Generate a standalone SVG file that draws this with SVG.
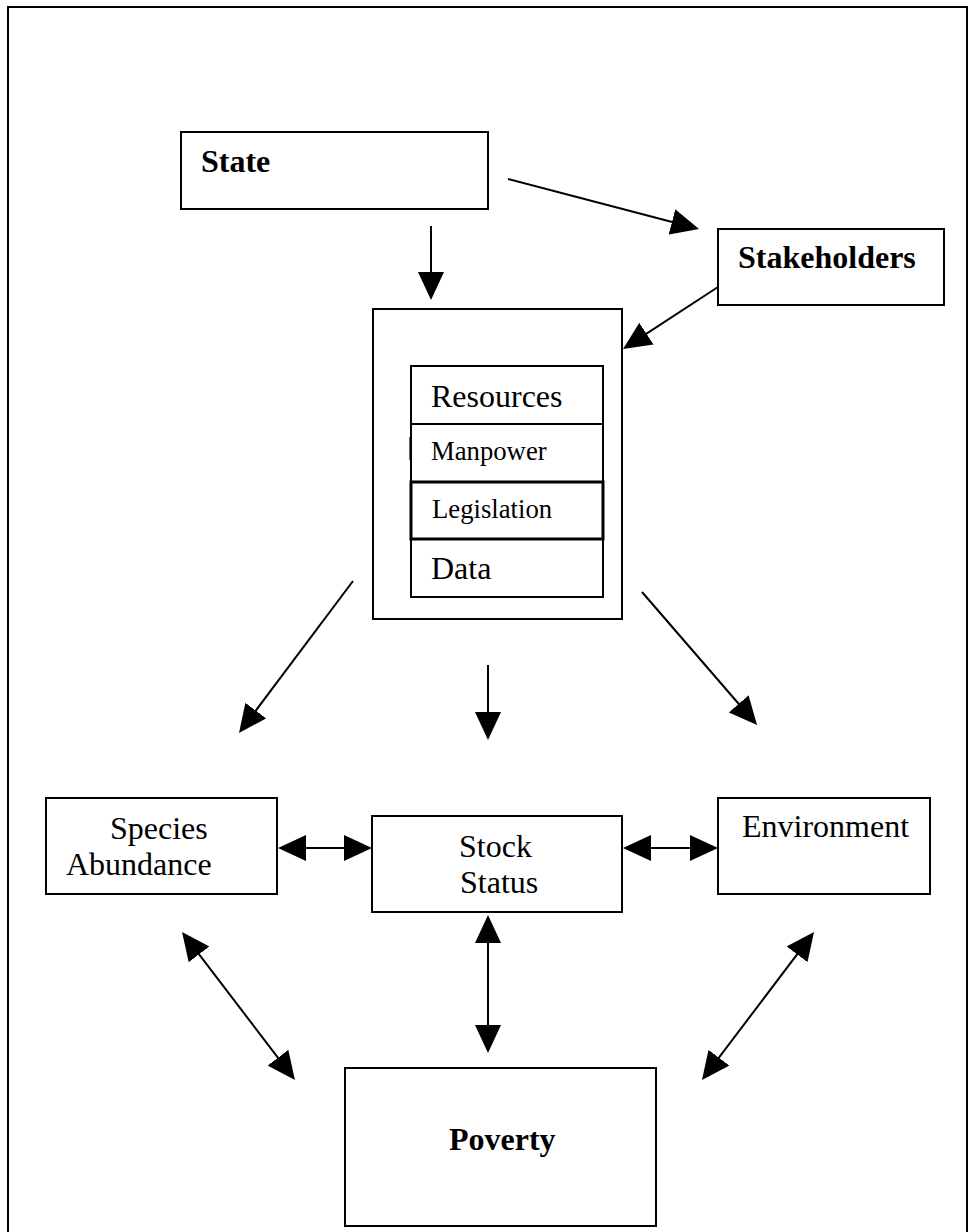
<svg xmlns="http://www.w3.org/2000/svg" width="977" height="1232" viewBox="0 0 977 1232">
  <style>
    .box { fill: #fff; stroke: #000; stroke-width: 2; }
    .lbl { font-family: "Liberation Serif", "Times New Roman", serif; font-size: 32px; fill: #000; }
    .sm { font-size: 26.7px; }
    .b { font-weight: bold; }
    .conn line { stroke: #000; stroke-width: 2; }
    .one { marker-end: url(#head); }
    .two { marker-start: url(#head); marker-end: url(#head); }
  </style>
  <defs>
    <!-- filled triangular arrowhead; tip sits 8 units past the line end -->
    <marker id="head" markerUnits="userSpaceOnUse" markerWidth="28" markerHeight="26" refX="20" refY="13" orient="auto-start-reverse">
      <path d="M0,0 L28,13 L0,26 z" fill="#000"/>
    </marker>
  </defs>

  <rect x="0" y="0" width="977" height="1232" fill="#fff"/>
  <!-- page frame -->
  <rect x="8" y="7" width="959" height="1240" fill="none" stroke="#000" stroke-width="2"/>

  <g id="state">
    <rect class="box" x="181" y="132" width="307" height="77"/>
    <text class="lbl b" x="201" y="172">State</text>
  </g>

  <g id="stakeholders">
    <rect class="box" x="718" y="229" width="226" height="76"/>
    <text class="lbl b" x="738" y="268">Stakeholders</text>
  </g>

  <g id="management">
    <rect class="box" x="373" y="309" width="249" height="310"/>
    <g id="resources">
      <rect class="box" x="411" y="366" width="192" height="58"/>
      <text class="lbl" x="431" y="407">Resources</text>
    </g>
    <g id="manpower">
      <rect class="box" x="411" y="424" width="192" height="58"/>
      <text class="lbl sm" x="431" y="460">Manpower</text>
    </g>
    <g id="data">
      <rect class="box" x="411" y="539" width="192" height="58"/>
      <text class="lbl" x="431" y="579">Data</text>
    </g>
    <g id="legislation">
      <rect class="box" x="411" y="482" width="192" height="57" style="stroke-width:3"/>
      <text class="lbl sm" x="432" y="518">Legislation</text>
    </g>
    <line x1="409.5" y1="437" x2="409.5" y2="460" stroke="#666" stroke-width="1"/>
  </g>

  <g id="species-abundance">
    <rect class="box" x="46" y="798" width="231" height="96"/>
    <text class="lbl" x="110" y="839">Species</text>
    <text class="lbl" x="66" y="875">Abundance</text>
  </g>

  <g id="stock-status">
    <rect class="box" x="372" y="816" width="250" height="96"/>
    <text class="lbl" x="459" y="857">Stock</text>
    <text class="lbl" x="460" y="893">Status</text>
  </g>

  <g id="environment">
    <rect class="box" x="718" y="798" width="212" height="96"/>
    <text class="lbl" x="742" y="837">Environment</text>
  </g>

  <g id="poverty">
    <rect class="box" x="345" y="1068" width="311" height="158"/>
    <text class="lbl b" x="449" y="1150">Poverty</text>
  </g>

  <g id="connectors" class="conn">
    <line class="one" x1="508" y1="179" x2="691.3" y2="227"/>
    <line class="one" x1="718" y1="287" x2="629.7" y2="344.6"/>
    <line class="one" x1="431" y1="226" x2="431" y2="292"/>
    <line class="one" x1="353" y1="581" x2="243.8" y2="726.6"/>
    <line class="one" x1="642" y1="592" x2="751.8" y2="719"/>
    <line class="one" x1="488" y1="665" x2="488" y2="732"/>
    <line class="two" x1="286" y1="848" x2="364" y2="848"/>
    <line class="two" x1="631" y1="848" x2="710" y2="848"/>
    <line class="two" x1="488" y1="923" x2="488" y2="1045"/>
    <line class="two" x1="186.9" y1="938.4" x2="290.1" y2="1073.6"/>
    <line class="two" x1="809.2" y1="938.4" x2="706.8" y2="1073.6"/>
  </g>
</svg>
